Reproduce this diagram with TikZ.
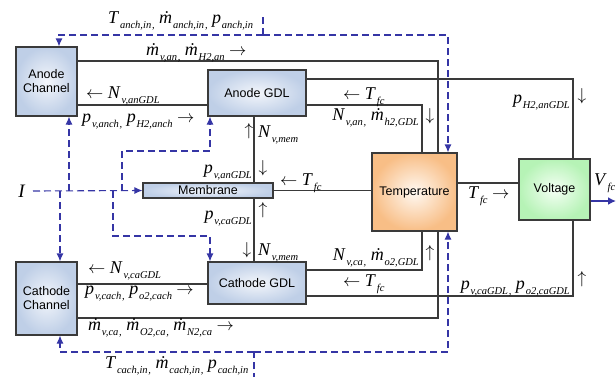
\documentclass[tikz,border=0pt]{standalone}
\usepackage[no-math]{fontspec}
\setmainfont{Liberation Serif}
\setsansfont{Liberation Sans}
\usetikzlibrary{arrows.meta,calc}
\definecolor{wirec}{HTML}{3A3A3A}
\definecolor{dblue}{HTML}{3535A5}
\definecolor{bluebox}{HTML}{BFCFE7}
\definecolor{blueinner}{HTML}{F3F6FB}
\definecolor{orgbox}{HTML}{F8BE86}
\definecolor{grnbox}{HTML}{B6F3B6}
\newcommand\qsub[1]{\kern0.8pt\raisebox{-5pt}{\fontsize{10.5}{11}\selectfont\itshape #1}}
\newcommand\qv[2]{\textit{#1}\qsub{#2}}
\newcommand\qm[1]{\textit{ṁ}\qsub{#1}}
\newcommand\qs{\qsub{,}\hspace{4.5pt}}
\newcommand\qr{\ $\rightarrow$}
\newcommand\ql{$\leftarrow$\ }
\tikzset{
  blk/.style={draw=wirec, line width=1.1pt, inner sep=0pt, align=center,
    font=\sffamily\fontsize{12.5}{14}\selectfont},
  bluefill/.style={inner color=blueinner, outer color=bluebox},
  orgfill/.style={inner color=orange!5!white, outer color=orgbox},
  grnfill/.style={inner color=green!4!white, outer color=grnbox},
  wire/.style={draw=wirec, line width=1.1pt},
  dsh/.style={draw=dblue, line width=1.1pt, dash pattern=on 7pt off 4pt},
  dar/.style={dsh, -{Latex[length=8pt,width=7pt]}},
  lab/.style={inner sep=0pt, font=\fontsize{18}{20}\selectfont},
}
\begin{document}
\begin{tikzpicture}[x=1pt,y=-1pt]
\useasboundingbox (0,0) rectangle (616,376);
% blocks
\node[blk,bluefill,minimum width=61pt,minimum height=69pt] (ach) at (46.5,81.5) {Anode\\Channel};
\node[blk,bluefill,minimum width=98pt,minimum height=46pt] (agdl) at (257,93) {Anode GDL};
\node[blk,bluefill,minimum width=130pt,minimum height=15pt] (mem) at (208,190.5) {Membrane};
\node[blk,bluefill,minimum width=98pt,minimum height=42pt] (cgdl) at (257,283) {Cathode GDL};
\node[blk,bluefill,minimum width=61pt,minimum height=73pt] (cch) at (46.5,298.5) {Cathode\\Channel};
\node[blk,orgfill,minimum width=85pt,minimum height=78pt] (temp) at (414.5,192) {Temperature};
\node[blk,grnfill,minimum width=71pt,minimum height=61pt] (volt) at (554.5,189.5) {Voltage};
% solid connectors
\draw[wire] (ach.east |- 0,61) -| (temp.north -| 438,0);
\draw[wire] (agdl.east |- 0,79) -| (volt.north -| 573,0);
\draw[wire] (agdl.east |- 0,105) -| (temp.north -| 422,0);
\draw[wire] (ach.east |- 0,105) -- (agdl.west |- 0,105);
\draw[wire] (agdl.south -| 254,0) -- (mem.north -| 254,0);
\draw[wire] (mem.south -| 254,0) -- (cgdl.north -| 254,0);
\draw[wire] (mem.east) -- (temp.west |- mem.east);
\draw[wire] (temp.east |- 0,183) -- (volt.west |- 0,183);
\draw[wire] (cch.east |- 0,284) -- (cgdl.west |- 0,284);
\draw[wire] (cch.east |- 0,318) -| (temp.south -| 438,0);
\draw[wire] (cgdl.east |- 0,270) -| (temp.south -| 422,0);
\draw[wire] (cgdl.east |- 0,296) -| (volt.south -| 573,0);
\coordinate (vout) at (616,201);
\draw[draw=dblue, line width=1.6pt, -{Latex[length=8pt,width=8pt]}] (volt.east |- vout) -- (vout);
% dashed inputs
\coordinate (tin) at (263,17);
\coordinate (tj) at (263,35);
\draw[dsh] (tin) -- (tj);
\draw[dar] (tj) -| (ach.north -| 59,0);
\draw[dar] (tj) -| (temp.north -| 448,0);
\coordinate (bin) at (254,380);
\coordinate (bj) at (254,352);
\draw[dsh] (bin) -- (bj);
\draw[dar] (bj) -| (cch.south -| 60,0);
\draw[dar] (bj) -| (temp.south -| 448,0);
\node[lab, font=\fontsize{19}{20}\selectfont] (I) at (22,191) {\textit{I}};
\coordinate (i0) at (33,191);
\coordinate (i1) at (60,191);
\coordinate (i2) at (69,191);
\coordinate (i3) at (113,191);
\coordinate (i4) at (122,191);
\draw[dar] (i0) -- (mem.west);
\draw[dar] (i1) -- (cch.north -| i1);
\draw[dar] (i2) -- (ach.south -| i2);
\draw[dar] (i3) -- (113,236) -| (cgdl.north -| 210,0);
\draw[dar] (i4) -- (122,151) -| (agdl.south -| 210,0);
% labels
\node[lab,anchor=base west] (l1) at (108,23) {\qv{T}{anch,in}\qs\qm{anch,in}\qs\qv{p}{anch,in}};
\node[lab,anchor=base west] (l2) at (146,55) {\qm{v,an}\qs\qm{H2,an}\qr};
\node[lab,anchor=base west] (l3) at (86,98) {\ql\qv{N}{v,anGDL}};
\node[lab,anchor=base west] (l4) at (82,122) {\qv{p}{v,anch}\qs\qv{p}{H2,anch}\qr};
\node[lab] (a1) at (249,131) {$\uparrow$};
\node[lab,anchor=base west] (l5) at (258,137) {\qv{N}{v,mem}};
\node[lab] (a2) at (263,168) {$\downarrow$};
\node[lab,anchor=base east] (l6) at (252,173) {\qv{p}{v,anGDL}};
\node[lab,anchor=base west] (l7) at (280,185) {\ql\qv{T}{fc}};
\node[lab,anchor=base east] (l8) at (252,219) {\qv{p}{v,caGDL}};
\node[lab] (a3) at (263,210) {$\uparrow$};
\node[lab] (a4) at (247,250) {$\downarrow$};
\node[lab,anchor=base west] (l9) at (258,255) {\qv{N}{v,mem}};
\node[lab,anchor=base west] (l10) at (88,273) {\ql\qv{N}{v,caGDL}};
\node[lab,anchor=base west] (l11) at (85,294) {\qv{p}{v,cach}\qs\qv{p}{o2,cach}\qr};
\node[lab,anchor=base west] (l12) at (88,330) {\qm{v,ca}\qs\qm{O2,ca}\qs\qm{N2,ca}\qr};
\node[lab,anchor=base west] (l13) at (105,368) {\qv{T}{cach,in}\qs\qm{cach,in}\qs\qv{p}{cach,in}};
\node[lab,anchor=base west] (l14) at (343,99) {\ql\qv{T}{fc}};
\node[lab,anchor=base east] (l15) at (419,120) {\qv{N}{v,an}\qs\qm{h2,GDL}};
\node[lab] (a5) at (430,116) {$\downarrow$};
\node[lab,anchor=base east] (l16) at (570,103) {\qv{p}{H2,anGDL}};
\node[lab] (a6) at (582,96) {$\downarrow$};
\node[lab,anchor=base west] (l17) at (468,198) {\qv{T}{fc}\qr};
\node[lab,anchor=base west] (l18) at (594,185) {\qv{V}{fc}};
\node[lab,anchor=base east] (l19) at (419,260) {\qv{N}{v,ca}\qs\qm{o2,GDL}};
\node[lab] (a7) at (430,253) {$\uparrow$};
\node[lab,anchor=base west] (l20) at (343,286) {\ql\qv{T}{fc}};
\node[lab,anchor=base east] (l21) at (570,289) {\qv{p}{v,caGDL}\qs\qv{p}{o2,caGDL}};
\node[lab] (a8) at (582,279) {$\uparrow$};
\end{tikzpicture}
\end{document}
